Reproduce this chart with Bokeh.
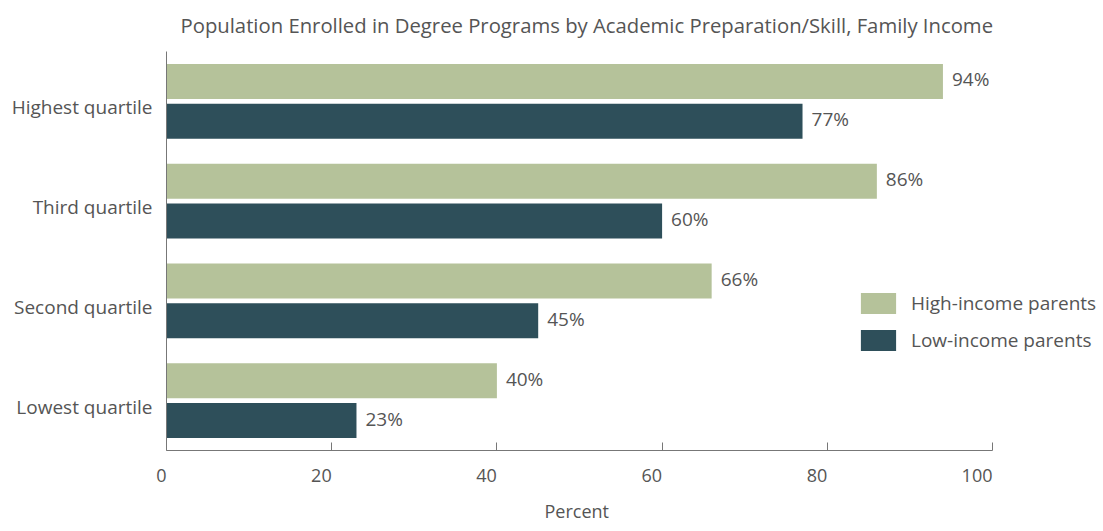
from bokeh.plotting import figure
from bokeh.models import (ColumnDataSource, Range1d, LabelSet, Title, LinearAxis,
                          Legend, LegendItem, FixedTicker)
from bokeh.core.properties import value
from bokeh.transform import dodge
from bokeh.embed import file_html
from bokeh.resources import INLINE

categories = ["Lowest quartile", "Second quartile", "Third quartile", "Highest quartile"]
high_income = [40, 66, 86, 94]
low_income = [23, 45, 60, 77]
x_ticks = [0, 20, 40, 60, 80, 100]
series_names = ["High-income parents", "Low-income parents"]
x_label = "Percent"

GREEN = "#b5c29a"
DARK = "#2e4f5a"
TEXT = "#555555"
AXIS = "#777777"
FONT = "Open Sans"

W, H = 1103, 531
LEFT, TOP, BOTTOM = 166, 50, 81
AXIS_PX = 826  # pixels spanned by 0..100
x_end = 100 * (W - LEFT) / AXIS_PX
n = len(categories)
y_pos = list(range(n))
LABEL_SHIFT = 0.06  # category labels sit slightly below the category centre

src = ColumnDataSource(dict(
    y=y_pos,
    high=high_income,
    low=low_income,
    high_lbl=[f"{v}%" for v in high_income],
    low_lbl=[f"{v}%" for v in low_income],
))

p = figure(width=W, height=H, output_backend="svg", toolbar_location=None,
           y_range=Range1d(-0.5, n - 0.5), x_range=Range1d(0, x_end),
           y_axis_location=None,
           min_border_left=LEFT, min_border_right=0,
           min_border_top=TOP, min_border_bottom=BOTTOM)
p.extra_y_ranges = {"cat_labels": Range1d(-0.5 + LABEL_SHIFT, n - 0.5 + LABEL_SHIFT)}

p.title.text = "Population Enrolled in Degree Programs by Academic Preparation/Skill, Family Income"
p.title.align = "left"
p.title.offset = 14
p.title.vertical_align = "top"
p.title.text_font = FONT
p.title.text_font_size = "20.3px"
p.title.text_font_style = "normal"
p.title.text_color = TEXT
p.title.standoff = 21

r_high = p.hbar(y=dodge("y", 0.2), right="high", left=0, height=0.35,
                source=src, color=GREEN, line_color=None)
r_low = p.hbar(y=dodge("y", -0.2), right="low", left=0, height=0.35,
               source=src, color=DARK, line_color=None)

lbl_style = dict(text_font=value(FONT), text_font_size=value("19px"), text_color=TEXT,
                 text_baseline="middle", x_offset=9, y_offset=2)
p.add_layout(LabelSet(x="high", y=dodge("y", 0.2), text="high_lbl", source=src, **lbl_style))
p.add_layout(LabelSet(x="low", y=dodge("y", -0.2), text="low_lbl", source=src, **lbl_style))

p.grid.visible = False
p.outline_line_color = None

xa = p.xaxis[0]
xa.ticker = FixedTicker(ticks=x_ticks)
xa.bounds = (0, 100)
xa.minor_tick_line_color = None
xa.major_tick_in = 8
xa.major_tick_out = 0
xa.major_tick_line_color = AXIS
xa.axis_line_color = AXIS
xa.major_label_text_font = FONT
xa.major_label_text_font_size = "18px"
xa.major_label_text_color = TEXT
# right-align each tick label on its tick (pad with figure spaces)
xa.major_label_overrides = {t: str(t) + "\u2007" * len(str(t)) for t in x_ticks}
xa.major_label_standoff = 12

p.add_layout(Title(text=x_label, align="left", offset=378, vertical_align="bottom",
                   text_font=FONT, text_font_size="18px", text_font_style="normal",
                   text_color=TEXT, standoff=14), "below")

ya = LinearAxis(y_range_name="cat_labels",
                ticker=FixedTicker(ticks=y_pos),
                major_label_overrides={i: c for i, c in zip(y_pos, categories)})
ya.major_tick_in = 0
ya.major_tick_out = 0
ya.minor_tick_line_color = None
ya.axis_line_color = AXIS
ya.major_label_text_font = FONT
ya.major_label_text_font_size = "19px"
ya.major_label_text_color = TEXT
ya.major_label_standoff = 14
p.add_layout(ya, "left")

legend = Legend(items=[LegendItem(label=series_names[0], renderers=[r_high]),
                       LegendItem(label=series_names[1], renderers=[r_low])],
                location=(690, 97), orientation="vertical",
                glyph_width=44, glyph_height=26, label_height=26,
                spacing=11, padding=0, margin=0, label_standoff=11,
                label_text_font=FONT, label_text_font_size="19px",
                label_text_color=TEXT, border_line_color=None,
                background_fill_alpha=0)
p.add_layout(legend, "center")

open("out.html", "w").write(file_html(p, INLINE))
